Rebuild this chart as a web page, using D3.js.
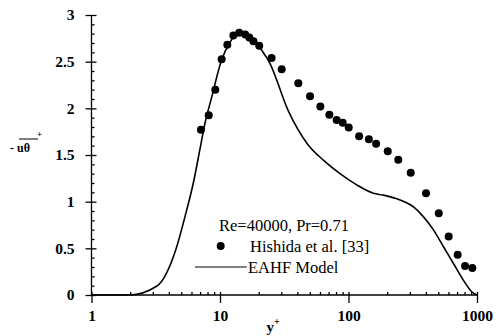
<!DOCTYPE html>
<html><head><meta charset="utf-8">
<script src="https://cdn.jsdelivr.net/npm/d3@7"></script>
<style>body{margin:0;background:#fff}svg{display:block}</style>
</head><body>
<svg id="c" width="496" height="336"></svg>
<script>
// Data
const hishidaX = [7.11,8.17,9.19,10.3,11.4,12.7,14.1,15.7,16.9,18.2,20.2,25.2,30.2,40.7,50.2,60.4,71,80.9,90.2,100.4,121,144,164,202,244,305,401,504,602,707,807,919];
const hishidaY = [1.77,1.925,2.20,2.525,2.68,2.78,2.81,2.79,2.76,2.72,2.67,2.54,2.42,2.27,2.13,2.02,1.93,1.875,1.846,1.795,1.70,1.67,1.62,1.54,1.45,1.31,1.09,0.875,0.627,0.43,0.31,0.29];
const modelX = [1,1.98,3.23,4.54,5.34,6.2,7.0,7.64,8.62,10.3,12.0,13.8,15.7,18.1,21.2,24.5,33.8,48.4,64.4,85.9,115.8,156,187,252,319,382,457,547,654,782,909,1000];
const modelY = [0,0,0.096,0.49,0.84,1.2,1.57,1.84,2.12,2.52,2.71,2.81,2.81,2.73,2.62,2.48,1.98,1.61,1.44,1.30,1.18,1.09,1.07,1.018,0.946,0.84,0.70,0.52,0.34,0.16,0.035,0];
const xTicks = [1,10,100,1000];
const xTickLabels = ["1","10","100","1000"];
const yTicks = [0,0.5,1,1.5,2,2.5,3];
const yTickLabels = ["0","0.5","1","1.5","2","2.5","3"];
const legendTitle = "Re=40000, Pr=0.71";
const legendPoints = "Hishida et al. [33]";
const legendLine = "EAHF Model";

const svg = d3.select("#c");
const x = d3.scaleLog().domain([1,1000]).range([91.5,477]);
const y = d3.scaleLinear().domain([0,3]).range([295,15]);
const serif = "'Liberation Serif','Times New Roman',serif";

// minor ticks
const xMinor = [];
for (let d=1; d<1000; d*=10) for (let k=2;k<10;k++) xMinor.push(d*k);
const yMinor = d3.range(0,31).map(i=>i/10).filter(v=>Math.abs(v*2-Math.round(v*2))>1e-6);

const gx = svg.append("g").attr("transform","translate(0,295)");
gx.call(d3.axisTop(x).tickValues(xMinor).tickSize(3).tickFormat(""));
gx.select(".domain").remove();
const gx2 = svg.append("g").attr("transform","translate(0,295)");
gx2.call(d3.axisBottom(x).tickValues(xTicks).tickSize(8).tickPadding(7).tickFormat((d,i)=>xTickLabels[i]));
gx2.select(".domain").attr("d", `M${x(1)},0H${x(1000)}`);
gx2.selectAll(".tick line").attr("y1",-3);

const gy = svg.append("g").attr("transform","translate(91.5,0)");
gy.call(d3.axisRight(y).tickValues(yMinor).tickSize(3).tickFormat(""));
gy.select(".domain").remove();
const gy2 = svg.append("g").attr("transform","translate(91.5,0)");
gy2.call(d3.axisLeft(y).tickValues(yTicks).tickSize(6).tickPadding(11).tickFormat((d,i)=>yTickLabels[i]));
gy2.select(".domain").attr("d", `M0,${y(0)}V${y(3)}`);
gy2.selectAll(".tick line").attr("x2",-6).attr("x1",5);

svg.selectAll(".tick text").attr("font-family",serif).attr("font-weight","bold").attr("font-size","15.5px").attr("fill","#000");
svg.selectAll(".domain, .tick line").attr("stroke","#000").attr("stroke-width",1.3);

// model line
const line = d3.line().x(d=>x(d[0])).y(d=>y(d[1])).curve(d3.curveMonotoneX);
svg.append("path").datum(modelX.map((v,i)=>[v,modelY[i]]))
  .attr("d",line).attr("fill","none").attr("stroke","#000").attr("stroke-width",1.6);

// points
svg.append("g").selectAll("circle").data(hishidaX.map((v,i)=>[v,hishidaY[i]])).join("circle")
  .attr("cx",d=>x(d[0])).attr("cy",d=>y(d[1])).attr("r",4).attr("fill","#000");

// axis labels
const xl = svg.append("text").attr("x",273).attr("y",332).attr("text-anchor","middle")
  .attr("font-family",serif).attr("font-weight","bold").attr("font-size","15px");
xl.append("tspan").text("y");
xl.append("tspan").attr("dy",-7).attr("font-size","10px").text("+");

const yl = svg.append("g").attr("font-family",serif).attr("font-weight","bold");
yl.append("text").attr("x",10).attr("y",152).attr("font-size","12px").text("- uθ");
yl.append("line").attr("x1",19).attr("x2",38).attr("y1",139).attr("y2",139).attr("stroke","#000").attr("stroke-width",1);
yl.append("text").attr("x",37).attr("y",137).attr("font-size","9px").text("+");

// legend
const lg = svg.append("g").attr("font-family",serif).attr("font-size","16.5px").attr("fill","#000");
lg.append("text").attr("x",349).attr("y",231).attr("text-anchor","end").text(legendTitle);
lg.append("circle").attr("cx",220.7).attr("cy",246).attr("r",4).attr("fill","#000");
lg.append("text").attr("x",250).attr("y",252).text(legendPoints);
lg.append("line").attr("x1",195).attr("x2",246.7).attr("y1",267).attr("y2",267).attr("stroke","#000").attr("stroke-width",1.2);
lg.append("text").attr("x",248).attr("y",273).text(legendLine);
</script>
</body></html>
